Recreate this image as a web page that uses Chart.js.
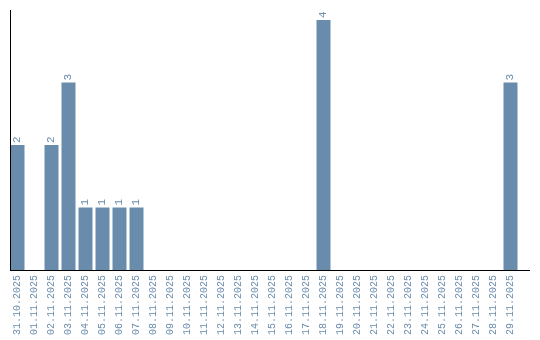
<!DOCTYPE html>
<html><head><meta charset="utf-8">
<script src="https://cdn.jsdelivr.net/npm/chart.js@4"></script>
<style>html,body{margin:0;padding:0;background:#fff}#wrap{width:540px;height:340px}</style>
</head><body><div id="wrap"><canvas id="c" width="540" height="340"></canvas></div>
<script>
const categories = ["31.10.2025","01.11.2025","02.11.2025","03.11.2025","04.11.2025","05.11.2025","06.11.2025","07.11.2025","08.11.2025","09.11.2025","10.11.2025","11.11.2025","12.11.2025","13.11.2025","14.11.2025","15.11.2025","16.11.2025","17.11.2025","18.11.2025","19.11.2025","20.11.2025","21.11.2025","22.11.2025","23.11.2025","24.11.2025","25.11.2025","26.11.2025","27.11.2025","28.11.2025","29.11.2025"];
const values = [2,0,2,3,1,1,1,1,0,0,0,0,0,0,0,0,0,0,4,0,0,0,0,0,0,0,0,0,0,3];

const BLUE = '#6a8cac';
const FAMILY = '"Liberation Mono", "DejaVu Sans Mono", monospace';
const FONT = '11px ' + FAMILY;

const overlay = {
  id: 'overlay',
  afterDatasetsDraw(chart) {
    const ctx = chart.ctx, a = chart.chartArea;
    ctx.save();
    ctx.strokeStyle = '#000'; ctx.lineWidth = 1;
    ctx.beginPath();
    ctx.moveTo(a.left + 1.5, a.top); ctx.lineTo(a.left + 1.5, a.bottom + 0.5);
    ctx.moveTo(a.left + 1, a.bottom + 0.5); ctx.lineTo(chart.width - 10, a.bottom + 0.5);
    ctx.stroke();
    const meta = chart.getDatasetMeta(0);
    ctx.fillStyle = BLUE; ctx.font = FONT;
    ctx.textAlign = 'left'; ctx.textBaseline = 'middle';
    meta.data.forEach((bar, i) => {
      const v = values[i];
      if (!v) return;
      ctx.save();
      ctx.translate(bar.x, bar.y - 2);
      ctx.rotate(-Math.PI / 2);
      ctx.fillText(String(v), 0, 0);
      ctx.restore();
    });
    ctx.restore();
  }
};

new Chart(document.getElementById('c'), {
  type: 'bar',
  data: { labels: categories, datasets: [{ data: values, backgroundColor: BLUE, barPercentage: 14/17, categoryPercentage: 1 }] },
  options: {
    responsive: false, animation: false,
    layout: { padding: { left: 9, right: 21, top: 10, bottom: 0 } },
    plugins: { legend: { display: false }, tooltip: { enabled: false } },
    scales: {
      x: {
        grid: { display: false, drawTicks: false },
        border: { display: false },
        ticks: { color: BLUE, font: { family: FAMILY, size: 10 }, minRotation: 90, maxRotation: 90, padding: 5, autoSkip: false },
        afterFit(s) { s.height = 70; }
      },
      y: {
        display: false, min: 0, max: 4.16
      }
    }
  },
  plugins: [overlay]
});
</script></body></html>
